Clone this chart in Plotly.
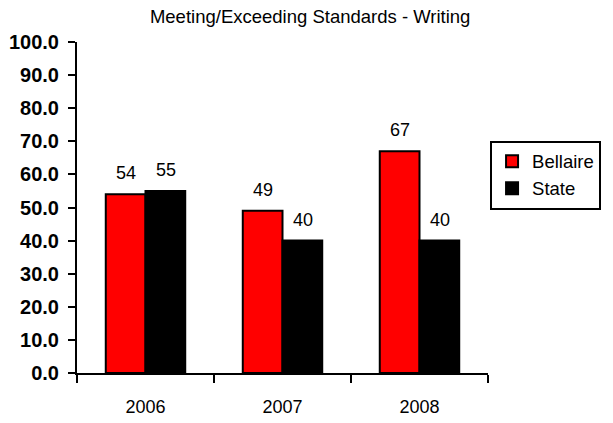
import plotly.graph_objects as go

# Data
years = ['2006', '2007', '2008']
bellaire = [54, 49, 67]
state = [55, 40, 40]
y_ticks = [0, 10, 20, 30, 40, 50, 60, 70, 80, 90, 100]

font_family = "Liberation Sans, Arial, sans-serif"

fig = go.Figure()
fig.add_trace(go.Bar(
    x=years, y=bellaire, name='Bellaire',
    marker=dict(color='rgb(255, 0, 0)', line=dict(color='black', width=2))))
fig.add_trace(go.Bar(
    x=years, y=state, name='State',
    marker=dict(color='black', line=dict(color='black', width=2))))

# value labels above bars (x as category index, shifted to each bar of the pair)
for vals, shift in [(bellaire, -20), (state, 20)]:
    for i, v in enumerate(vals):
        fig.add_annotation(
            x=i, y=v, text=str(v), showarrow=False,
            xshift=shift, yshift=21,
            font=dict(family=font_family, size=18, color='black'))

fig.update_layout(
    width=613, height=423,
    margin=dict(l=77, r=121, t=42, b=50),
    paper_bgcolor='white', plot_bgcolor='white',
    barmode='group', bargap=0.42, bargroupgap=0,
    title=dict(text='Meeting/Exceeding Standards - Writing',
               x=0.506, xanchor='center', y=0.96, yanchor='middle',
               font=dict(family=font_family, size=18.5, color='black')),
    legend=dict(x=1.005, y=0.702, xanchor='left', yanchor='top',
                bordercolor='black', borderwidth=2,
                font=dict(family=font_family, size=18.5, color='black'),
                tracegroupgap=0, itemwidth=30),
    showlegend=True,
)
fig.update_xaxes(
    type='category', automargin=False,
    showline=True, linecolor='black', linewidth=2,
    ticks='outside', tickson='boundaries', ticklen=8, tickwidth=2, tickcolor='black',
    ticklabelstandoff=16,
    tickfont=dict(family=font_family, size=18, color='black'),
    showgrid=False, range=[-0.5, 2.5])
fig.update_yaxes(
    automargin=False,
    showline=True, linecolor='black', linewidth=2,
    ticks='outside', ticklen=7, tickwidth=2, tickcolor='black',
    ticklabelstandoff=5,
    tickvals=y_ticks, ticktext=['%.1f' % t for t in y_ticks],
    tickfont=dict(family=font_family, size=20, color='black', weight='bold'),
    showgrid=False, zeroline=False, range=[0, 100])

# drop the default 8px page margin so the figure fills the window
fig.write_html("out.html", config={'displayModeBar': False},
               post_script="document.body.style.margin='0';")
